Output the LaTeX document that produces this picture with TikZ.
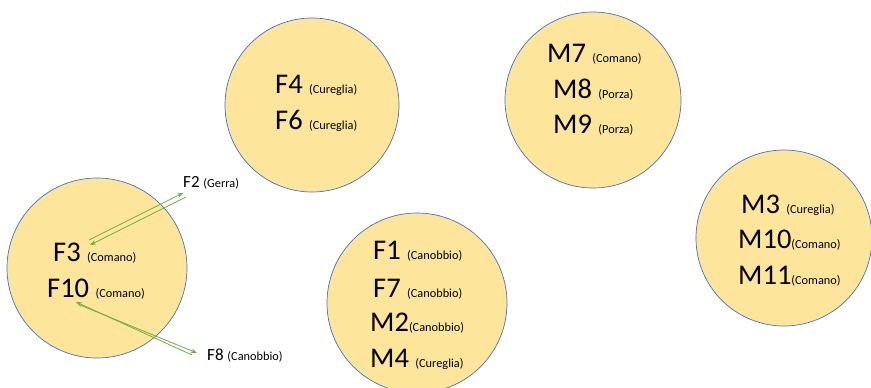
\documentclass[tikz,border=0pt]{standalone}
\usepackage{fontspec}
\setmainfont{Carlito}
\usetikzlibrary{arrows.meta}
\definecolor{circfill}{HTML}{FDE59B}
\definecolor{circline}{HTML}{4472C4}
\definecolor{arrgreen}{HTML}{70AD47}
\newcommand{\sm}[1]{{\fontsize{12.3}{14}\selectfont #1}}
\tikzset{
  bubble/.style={circle, draw=circline, fill=circfill, line width=0.7pt, inner sep=0pt},
  big/.style={anchor=base west, inner sep=0pt, font=\fontsize{28.5}{30}\selectfont},
  mid/.style={anchor=base west, inner sep=0pt, font=\fontsize{17}{19}\selectfont},
  link/.style={draw=arrgreen, line width=0.8pt, -{Stealth[length=6pt,width=4.5pt]}}
}
\begin{document}
\begin{tikzpicture}[x=1pt,y=-1pt]
\useasboundingbox (0,0) rectangle (871,388);
% circles
\node[bubble, minimum size=180pt] (c1) at (97,268) {};
\node[bubble, minimum size=174pt] (c2) at (312,105) {};
\node[bubble, minimum size=180pt] (c3) at (417,303) {};
\node[bubble, minimum size=176pt] (c4) at (593,100) {};
\node[bubble, minimum size=176pt] (c5) at (784,238) {};
% arrow endpoints
\coordinate (a1s) at (89,240);
\coordinate (a1e) at (183,193);
\coordinate (a2s) at (186,197);
\coordinate (a2e) at (90,245);
\coordinate (b1s) at (192,355);
\coordinate (b1e) at (76,302);
\coordinate (b2s) at (80,305);
\coordinate (b2e) at (197,353);
\draw[link] (a1s) -- (a1e);
\draw[link] (a2s) -- (a2e);
\draw[link] (b1s) -- (b1e);
\draw[link] (b2s) -- (b2e);
% texts
\node[big] (f4) at (275,93) {F4 \sm{(Cureglia)}};
\node[big] (f6) at (275,129) {F6 \sm{(Cureglia)}};
\node[big] (f1) at (373,259) {F1 \sm{(Canobbio)}};
\node[big] (f7) at (373,297) {F7 \sm{(Canobbio)}};
\node[big] (m2) at (370,331) {M2\sm{(Canobbio)}};
\node[big] (m4) at (370,367) {M4 \sm{(Cureglia)}};
\node[big] (m7) at (547,62) {M7 \sm{(Comano)}};
\node[big] (m8) at (553,98) {M8 \sm{(Porza)}};
\node[big] (m9) at (553,133) {M9 \sm{(Porza)}};
\node[big] (m3) at (741,213) {M3 \sm{(Cureglia)}};
\node[big] (m10) at (738,248) {M10\sm{(Comano)}};
\node[big] (m11) at (738,284) {M11\sm{(Comano)}};
\node[big] (f3) at (53,261) {F3 \sm{(Comano)}};
\node[big] (f10) at (47,297) {F10 \sm{(Comano)}};
\node[mid] (f2) at (183,187) {F2 \sm{(Gerra)}};
\node[mid] (f8) at (207,360) {F8 \sm{(Canobbio)}};
\end{tikzpicture}
\end{document}
